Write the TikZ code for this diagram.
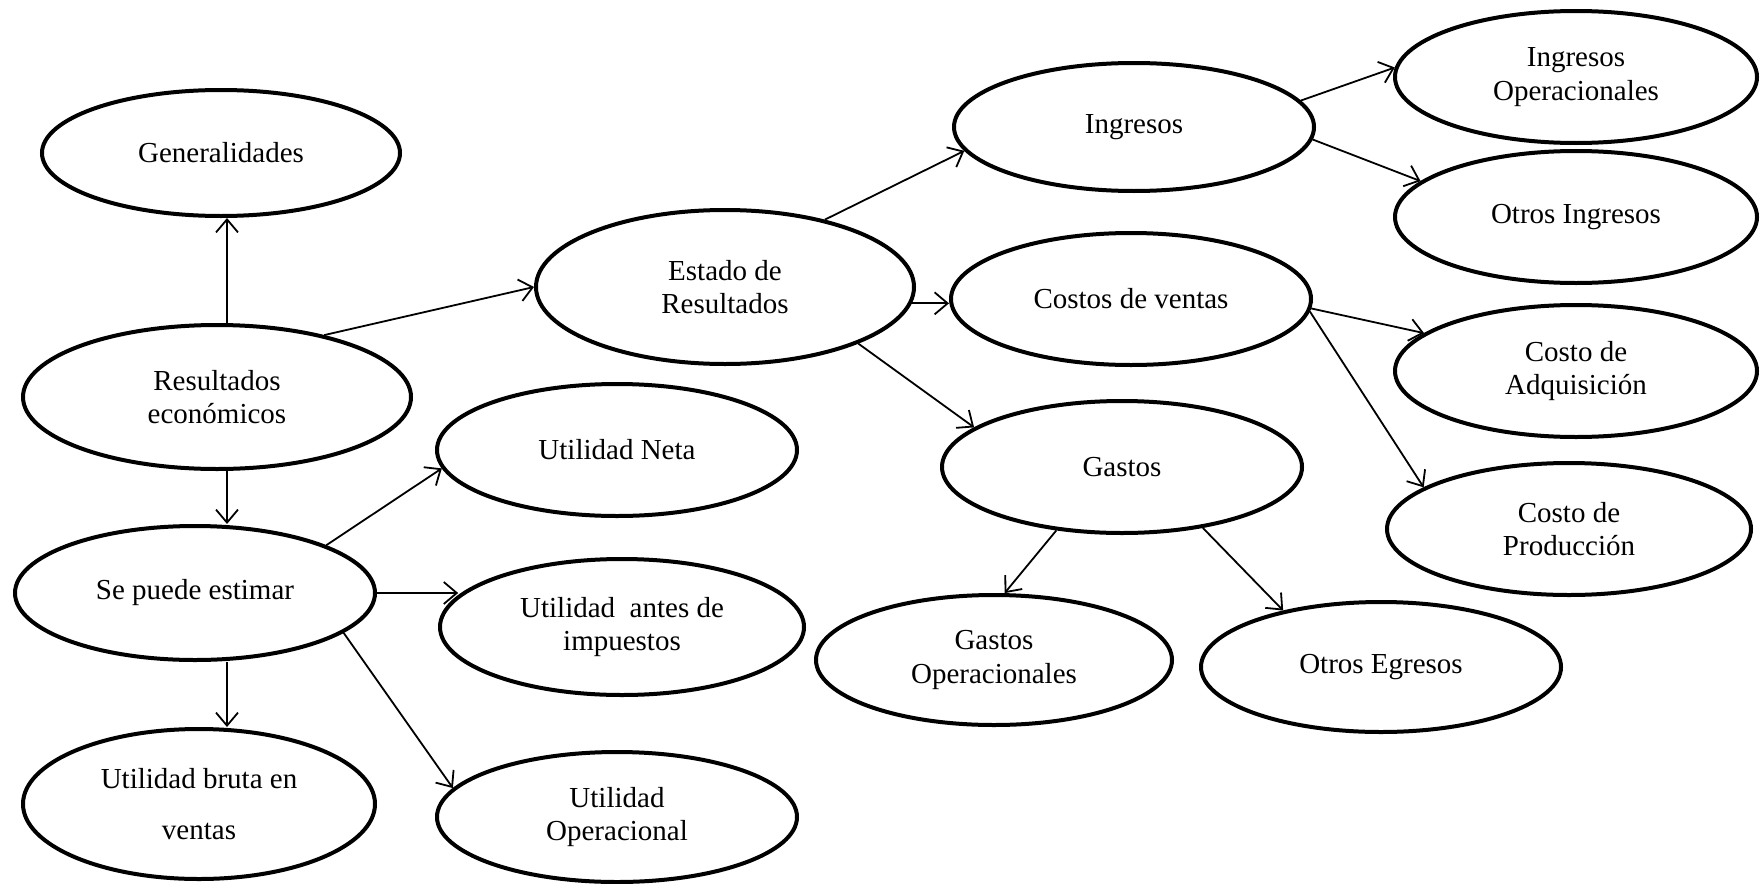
\documentclass[tikz,border=0pt]{standalone}
\usepackage{fontspec}
\setmainfont{Liberation Serif}
\usetikzlibrary{shapes.geometric,arrows.meta}
\begin{document}
\begin{tikzpicture}[x=1pt,y=-1pt,
  ell/.style={ellipse, draw, line width=4pt, align=center, inner sep=0pt,
    font=\fontsize{29}{33.5}\selectfont},
  arr/.style={line width=1.8pt, -{Straight Barb[length=13pt,width=22pt,line width=1.8pt]}}]
\useasboundingbox (0,0) rectangle (1760,883);
% nodes
\node[ell, minimum width=358pt, minimum height=126pt] (gen) at (221,153) {Generalidades};
\node[ell, minimum width=388pt, minimum height=144pt] (res) at (217,397) {Resultados\\econ\'omicos};
\node[ell, minimum width=360pt, minimum height=134pt] (se) at (195,593) {Se puede estimar};
\node[ell, minimum width=352pt, minimum height=150pt] (bruta) at (199,804) {Utilidad bruta en\\[18pt]ventas};
\node[ell, minimum width=360pt, minimum height=132pt] (neta) at (617,450) {Utilidad Neta};
\node[ell, minimum width=364pt, minimum height=136pt] (antes) at (622,627) {Utilidad\ \ antes de\\impuestos};
\node[ell, minimum width=360pt, minimum height=130pt] (oper) at (617,817) {Utilidad\\Operacional};
\node[ell, minimum width=378pt, minimum height=154pt] (est) at (725,287) {Estado de\\Resultados};
\node[ell, minimum width=360pt, minimum height=128pt] (ing) at (1134,127) {Ingresos};
\node[ell, minimum width=360pt, minimum height=132pt] (cost) at (1131,299) {Costos de ventas};
\node[ell, minimum width=360pt, minimum height=132pt] (gas) at (1122,467) {Gastos};
\node[ell, minimum width=356pt, minimum height=130pt] (gop) at (994,660) {Gastos\\Operacionales};
\node[ell, minimum width=360pt, minimum height=130pt] (oe) at (1381,667) {Otros Egresos};
\node[ell, minimum width=362pt, minimum height=132pt] (io) at (1576,77) {Ingresos\\Operacionales};
\node[ell, minimum width=362pt, minimum height=132pt] (oi) at (1576,217) {Otros Ingresos};
\node[ell, minimum width=362pt, minimum height=132pt] (adq) at (1576,371) {Costo de\\Adquisici\'on};
\node[ell, minimum width=364pt, minimum height=132pt] (prod) at (1569,529) {Costo de\\Producci\'on};
\coordinate (vx) at (227,0);
% connectors
\draw[arr] (res.north -| vx) -- (gen.south -| vx);
\draw[arr] (res.south -| vx) -- (se.north -| vx);
\draw[arr] (se.south -| vx) -- (bruta.north -| vx);
\draw[arr] (res.30) -- (est.180);
\draw[arr] (se.20) -- (neta.186);
\draw[arr] (se.east) -- (se.east -| antes.169);
\draw[arr] (se.-15) -- (oper.170);
\draw[arr] (est.34) -- (ing.188);
\draw[arr] (est.-5) -- (est.-5 -| cost.west);
\draw[arr] (est.-23) -- (gas.165);
\draw[arr] (ing.9) -- (io.177);
\draw[arr] (ing.-4) -- (oi.167);
\draw[arr] (cost.-3) -- (adq.166);
\draw[arr] (cost.-4) -- (prod.164);
\draw[arr] (gas.-136) -- (gop.81);
\draw[arr] (gas.-37) -- (oe.150);
\end{tikzpicture}
\end{document}
